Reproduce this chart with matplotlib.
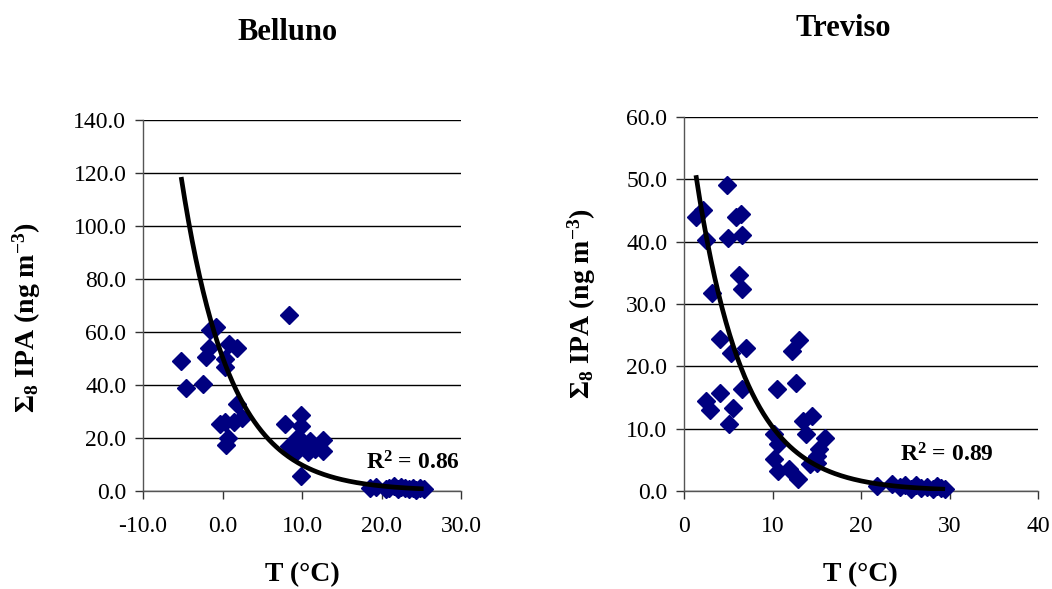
"""
Sum of 8 IPA concentrations against air temperature at two sites,
each with an exponential trendline and its R^2.
"""

import matplotlib

matplotlib.use("Agg")
import matplotlib.pyplot as plt
import numpy as np

plt.rcParams["font.family"] = ["Liberation Serif", "DejaVu Serif"]
plt.rcParams["mathtext.fontset"] = "custom"
plt.rcParams["mathtext.rm"] = "Liberation Serif"
plt.rcParams["mathtext.bf"] = "Liberation Serif:bold"
plt.rcParams["mathtext.it"] = "Liberation Serif:italic"

# Belluno: temperature (degC) and sum of IPA (ng m-3).
belluno_t = [
    -5.2, -4.6, -2.5, -2.1, -1.7, -1.6, -0.8, 0.3, 0.3, 0.8,
    1.8, 1.8, -0.3, 0.3, 1.5, 2.4, 0.7, 0.5, 8.4, 7.9,
    9.9, 9.9, 8.4, 9.1, 10.1, 11.0, 10.7, 12.6, 12.6, 9.9,
    9.5, 11.6, 18.5, 19.3, 20.6, 21.0, 21.6, 22.1, 22.5, 23.0,
    23.4, 23.9, 24.3, 24.8, 25.3,
]
belluno_ipa = [
    48.9, 38.7, 40.2, 50.7, 53.8, 60.9, 62.0, 49.9, 46.9, 55.6,
    53.8, 32.7, 25.1, 25.9, 25.9, 27.4, 20.0, 17.3, 66.5, 25.1,
    28.5, 24.4, 16.8, 14.2, 18.3, 18.7, 14.9, 19.1, 15.0, 5.5,
    20.5, 16.0, 1.0, 1.5, 0.8, 1.2, 1.8, 0.6, 1.4, 1.0,
    0.7, 1.3, 0.5, 1.0, 0.6,
]

# Treviso: temperature (degC) and sum of IPA (ng m-3).
treviso_t = [
    4.9, 1.35, 2.2, 2.5, 5.0, 6.5, 5.9, 6.4, 6.2, 6.6,
    3.2, 4.1, 5.3, 7.0, 13.0, 12.2, 4.1, 6.5, 2.5, 2.9,
    5.5, 5.1, 10.5, 12.6, 10.2, 10.6, 10.2, 10.6, 11.9, 12.9,
    13.5, 14.5, 13.8, 15.9, 15.3, 15.0, 14.2, 15.0,
    21.8, 23.5, 24.4, 25.0, 25.6, 26.2, 26.8, 27.5, 28.1, 28.6,
    29.0, 29.5,
]
treviso_ipa = [
    49.1, 43.9, 45.1, 40.3, 40.6, 41.1, 43.9, 44.5, 34.7, 32.4,
    31.8, 24.4, 22.1, 22.9, 24.2, 22.5, 15.8, 16.4, 14.5, 13.0,
    13.3, 10.8, 16.4, 17.3, 9.2, 7.6, 5.2, 3.2, 3.6, 2.0,
    11.2, 12.1, 9.1, 8.5, 6.7, 5.6, 4.4, 4.5,
    0.8, 1.1, 0.6, 1.0, 0.4, 0.9, 0.5, 0.7, 0.3, 0.8,
    0.5, 0.3,
]

# Exponential trendlines y = a * exp(b * T) and their R^2.
belluno_fit = (50.5, -0.164)
treviso_fit = (65.0, -0.1846)
belluno_r2 = 0.86
treviso_r2 = 0.89

belluno_xticks = [-10, 0, 10, 20, 30]
belluno_yticks = [0, 20, 40, 60, 80, 100, 120, 140]
treviso_xticks = [0, 10, 20, 30, 40]
treviso_yticks = [0, 10, 20, 30, 40, 50, 60]

MARKER_COLOR = "#000080"
TICK_SIZE = 17
LABEL_SIZE = 20

W, H = 1052, 589
fig = plt.figure(figsize=(W / 100, H / 100), dpi=100)
ax_b = fig.add_axes([143 / W, 1 - 491 / H, 318 / W, 371 / H])
ax_t = fig.add_axes([684 / W, 1 - 491 / H, 354 / W, 374 / H])


def draw_panel(ax, t, ipa, fit, r2, xticks, yticks, xfmt, r2_pos,
               ylabel_xy, xlabel_xy):
    ax.set_xlim(xticks[0], xticks[-1])
    ax.set_ylim(yticks[0], yticks[-1])
    ax.set_xticks(xticks)
    ax.set_yticks(yticks)
    ax.set_xticklabels([xfmt.format(v) for v in xticks], fontsize=TICK_SIZE)
    ax.set_yticklabels([f"{v:.1f}" for v in yticks], fontsize=TICK_SIZE)
    ax.tick_params(direction="out", length=6, width=1, color="#333333")
    ax.tick_params(axis="y", pad=6)
    ax.tick_params(axis="x", pad=12)

    ax.grid(axis="y", color="black", linewidth=1)
    ax.set_axisbelow(True)
    for side in ("top", "right"):
        ax.spines[side].set_visible(False)
    for side in ("left", "bottom"):
        ax.spines[side].set_color("#555555")
        ax.spines[side].set_linewidth(1)

    ax.plot(t, ipa, linestyle="none", marker="D", markersize=9.5,
            color=MARKER_COLOR, clip_on=False, zorder=3)

    a, b = fit
    tt = np.linspace(min(t), max(t), 200)
    ax.plot(tt, a * np.exp(b * tt), color="black", linewidth=3.4,
            solid_capstyle="butt", zorder=4)

    ax.text(r2_pos[0], r2_pos[1], r"R$^{\mathbf{2}}$" + f" = {r2:.2f}",
            fontsize=17, fontweight="bold", ha="right",
            va="center", zorder=5)

    ax.set_xlabel("T (°C)", fontsize=LABEL_SIZE, fontweight="bold")
    ax.xaxis.set_label_coords(*xlabel_xy)
    ax.xaxis.label.set_va("center")
    ax.set_ylabel(r"$\mathbf{\Sigma}_{\mathbf{8}}$ IPA (ng m$^{\mathbf{-3}}$)",
                  fontsize=LABEL_SIZE, fontweight="bold")
    ax.yaxis.set_label_coords(*ylabel_xy)
    ax.yaxis.label.set_va("center")


draw_panel(ax_b, belluno_t, belluno_ipa, belluno_fit, belluno_r2,
           belluno_xticks, belluno_yticks, "{:.1f}", (29.9, 10.5),
           ((27 - 143) / 318, (491 - 318) / 371),
           ((302 - 143) / 318, (491 - 575) / 371))
draw_panel(ax_t, treviso_t, treviso_ipa, treviso_fit, treviso_r2,
           treviso_xticks, treviso_yticks, "{:d}", (35.0, 5.8),
           ((582 - 684) / 354, (491 - 304) / 374),
           ((860 - 684) / 354, (491 - 575) / 374))

fig.text(287 / W, 1 - 32 / H, "Belluno", fontsize=22,
         fontweight="bold", ha="center", va="center")
fig.text(843 / W, 1 - 28 / H, "Treviso", fontsize=22,
         fontweight="bold", ha="center", va="center")

fig.savefig("out.png", dpi=100)
